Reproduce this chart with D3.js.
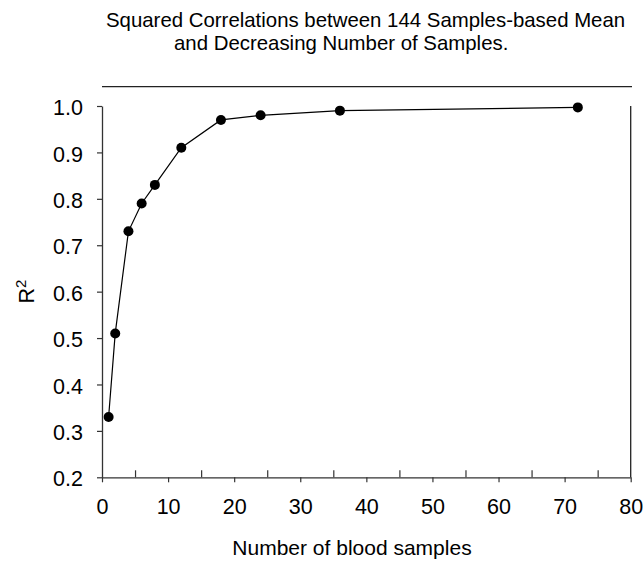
<!DOCTYPE html>
<html>
<head>
<meta charset="utf-8">
<script src="https://cdn.jsdelivr.net/npm/d3@7"></script>
<style>
  html, body { margin: 0; padding: 0; background: #fff; }
  svg { display: block; font-family: Arial, "Liberation Sans", Helvetica, sans-serif; }
</style>
</head>
<body>
<svg id="chart" width="644" height="561"></svg>
<script>
const samples = [1, 2, 4, 6, 8, 12, 18, 24, 36, 72];
const rSquared = [0.33, 0.51, 0.73, 0.79, 0.83, 0.91, 0.97, 0.98, 0.99, 0.997];
const xMajorTicks = [0, 10, 20, 30, 40, 50, 60, 70, 80];
const xMinorTicks = [5, 15, 25, 35, 45, 55, 65, 75];
const yTicks = [0.2, 0.3, 0.4, 0.5, 0.6, 0.7, 0.8, 0.9, 1.0];
const titleLines = ["Squared Correlations between 144 Samples-based Mean", "and Decreasing Number of Samples."];
const xLabel = "Number of blood samples";

(function () {
const svg = d3.select("#chart");
const pL = 102, pR = 630.7, pT = 106, pB = 477.3;

const x = d3.scaleLinear().domain([0, 80]).range([pL, pR]);
const y = d3.scaleLinear().domain([0.2, 1.0]).range([pB, pT]);

// Title
svg.append("text").attr("x", 106).attr("y", 27).attr("font-size", 20.4)
  .attr("fill", "#000").text(titleLines[0]);
svg.append("text").attr("x", 174).attr("y", 50).attr("font-size", 20.4)
  .attr("fill", "#000").text(titleLines[1]);

// Top rule
svg.append("line").attr("x1", pL).attr("x2", 632).attr("y1", 86.7).attr("y2", 86.7)
  .attr("stroke", "#222").attr("stroke-width", 1.3);

// Right frame line
svg.append("line").attr("x1", pR).attr("x2", pR).attr("y1", pT).attr("y2", pB)
  .attr("stroke", "#222").attr("stroke-width", 1.3);

// X axis major
const gx = svg.append("g").attr("transform", `translate(0,${pB})`)
  .call(d3.axisBottom(x).tickValues(xMajorTicks).tickSizeInner(5).tickSizeOuter(0).tickFormat(d3.format("d")));
gx.select(".domain").attr("stroke", "#333").attr("stroke-width", 1.3);
gx.selectAll(".tick line").attr("stroke", "#333").attr("stroke-width", 1.2);
gx.selectAll(".tick text").attr("font-size", 21.5).attr("font-family", "Arial, 'Liberation Sans', sans-serif")
  .attr("fill", "#000").attr("y", 37).attr("dy", 0);

// X axis minor (pointing up)
const gxm = svg.append("g").attr("transform", `translate(0,${pB})`)
  .call(d3.axisBottom(x).tickValues(xMinorTicks).tickSizeInner(-7).tickSizeOuter(0).tickFormat(""));
gxm.select(".domain").remove();
gxm.selectAll(".tick line").attr("stroke", "#333").attr("stroke-width", 1.2);

// Y axis
const gy = svg.append("g").attr("transform", `translate(${pL},0)`)
  .call(d3.axisLeft(y).tickValues(yTicks).tickSizeInner(5).tickSizeOuter(0).tickFormat(d3.format(".1f")));
gy.select(".domain").attr("stroke", "#333").attr("stroke-width", 1.3);
gy.selectAll(".tick line").attr("stroke", "#333").attr("stroke-width", 1.2);
gy.selectAll(".tick text").attr("font-size", 21.5).attr("font-family", "Arial, 'Liberation Sans', sans-serif")
  .attr("fill", "#000").attr("x", -19).attr("dy", "0.4em");

// X label
svg.append("text").attr("x", 352).attr("y", 555).attr("text-anchor", "middle")
  .attr("font-size", 21).attr("fill", "#000").text(xLabel);

// Y label R^2
const yl = svg.append("text").attr("transform", `translate(33.5,${(pT + pB) / 2}) rotate(-90)`)
  .attr("text-anchor", "middle").attr("font-size", 21.5).attr("fill", "#000");
yl.append("tspan").text("R");
yl.append("tspan").attr("font-size", 15).attr("dy", -8).text("2");

// Line + markers
const data = samples.map((s, i) => ({ s, r: rSquared[i] }));
svg.append("path").datum(data)
  .attr("fill", "none").attr("stroke", "#000").attr("stroke-width", 1.2)
  .attr("d", d3.line().x(d => x(d.s)).y(d => y(d.r)));
svg.selectAll("circle.pt").data(data).enter().append("circle")
  .attr("class", "pt").attr("cx", d => x(d.s)).attr("cy", d => y(d.r)).attr("r", 5)
  .attr("fill", "#000");
})();
</script>
</body>
</html>
